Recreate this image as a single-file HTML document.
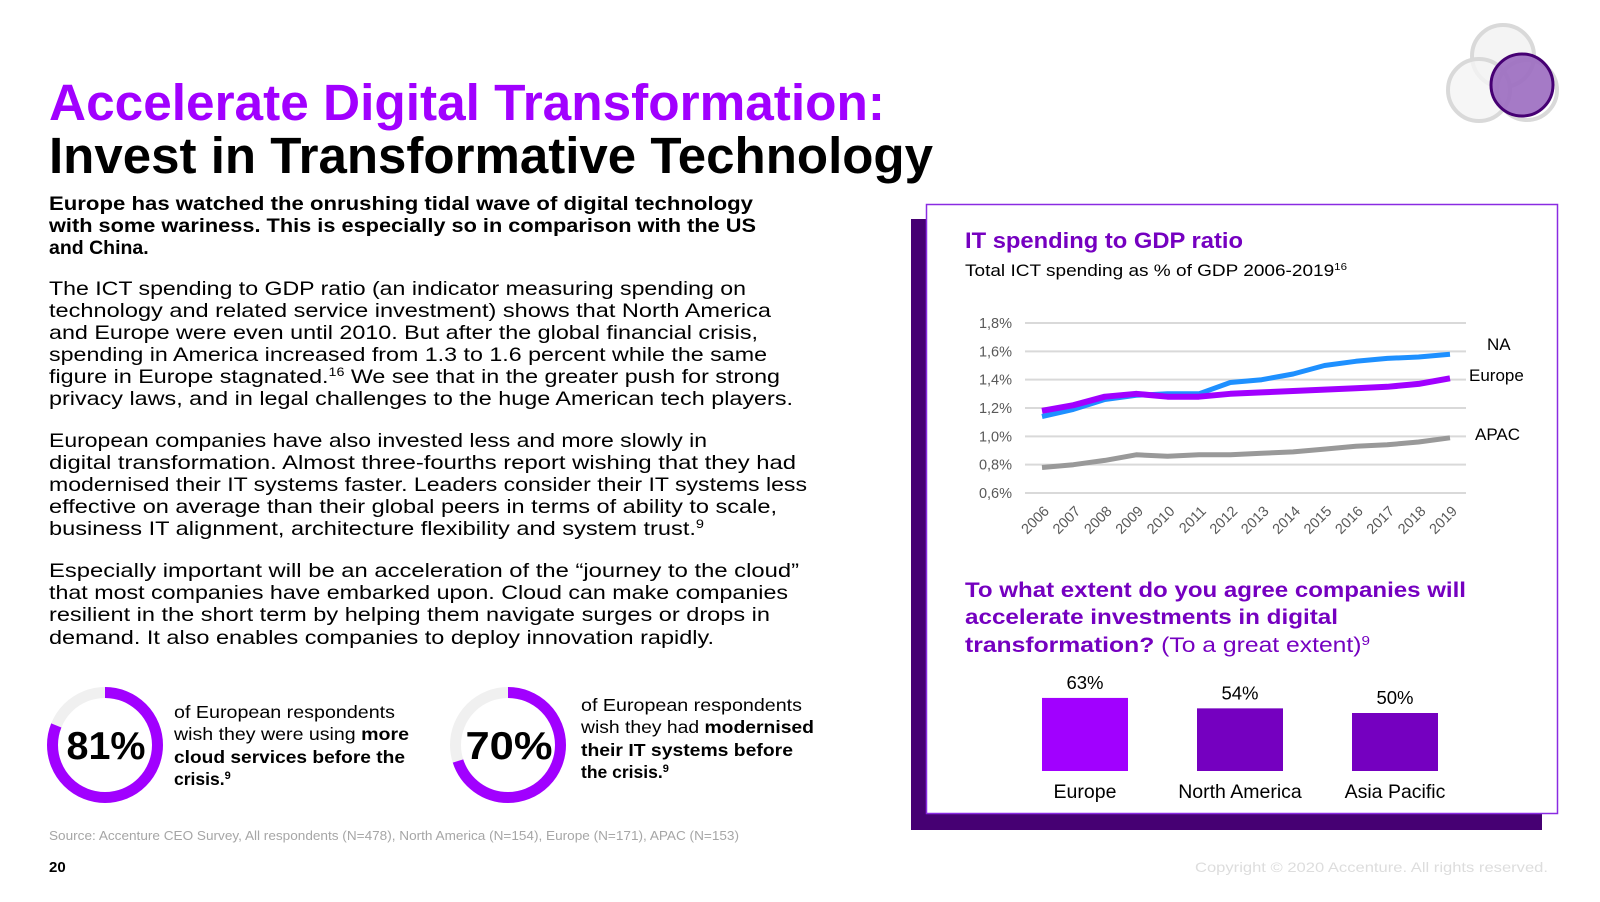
<!DOCTYPE html>
<html><head><meta charset="utf-8"><style>
html,body{margin:0;padding:0;background:#fff;}
svg{display:block;font-family:"Liberation Sans",sans-serif;}
</style></head><body>
<svg id="page" width="1600" height="902" viewBox="0 0 1600 902">
<!-- logo -->
<g>
  <circle cx="1503" cy="56" r="31" fill="#f4f4f4" stroke="#d9d9d9" stroke-width="4"/>
  <circle cx="1479" cy="90" r="31" fill="#f4f4f4" fill-opacity="0.8" stroke="#d9d9d9" stroke-width="4"/>
  <circle cx="1527" cy="90" r="30" fill="none" stroke="#d9d9d9" stroke-width="4"/>
  <circle cx="1522" cy="85" r="31" fill="#9b6bc0" fill-opacity="0.9" stroke="#460073" stroke-width="3"/>
</g>
<!-- titles -->
<text x="49" y="120" font-size="51" font-weight="bold" fill="#a100ff" textLength="836" lengthAdjust="spacingAndGlyphs">Accelerate Digital Transformation:</text>
<text x="49" y="173" font-size="51" font-weight="bold" fill="#000" textLength="884" lengthAdjust="spacingAndGlyphs">Invest in Transformative Technology</text>
<!-- intro -->
<g font-size="19.5" font-weight="bold" fill="#000">
<text x="49" y="210" textLength="704" lengthAdjust="spacingAndGlyphs">Europe has watched the onrushing tidal wave of digital technology</text>
<text x="49" y="232" textLength="707" lengthAdjust="spacingAndGlyphs">with some wariness. This is especially so in comparison with the US</text>
<text x="49" y="254">and China.</text>
</g>
<g font-size="19.5" fill="#000">
<text x="49" y="295" textLength="697" lengthAdjust="spacingAndGlyphs">The ICT spending to GDP ratio (an indicator measuring spending on</text>
<text x="49" y="317" textLength="722" lengthAdjust="spacingAndGlyphs">technology and related service investment) shows that North America</text>
<text x="49" y="339" textLength="709" lengthAdjust="spacingAndGlyphs">and Europe were even until 2010. But after the global financial crisis,</text>
<text x="49" y="361" textLength="718" lengthAdjust="spacingAndGlyphs">spending in America increased from 1.3 to 1.6 percent while the same</text>
<text x="49" y="383" textLength="731" lengthAdjust="spacingAndGlyphs">figure in Europe stagnated.<tspan font-size="12" dy="-7">16</tspan><tspan dy="7"> We see that in the greater push for strong</tspan></text>
<text x="49" y="405" textLength="744" lengthAdjust="spacingAndGlyphs">privacy laws, and in legal challenges to the huge American tech players.</text>
</g>
<g font-size="19.5" fill="#000">
<text x="49" y="447" textLength="658" lengthAdjust="spacingAndGlyphs">European companies have also invested less and more slowly in</text>
<text x="49" y="469" textLength="747" lengthAdjust="spacingAndGlyphs">digital transformation. Almost three-fourths report wishing that they had</text>
<text x="49" y="491" textLength="758" lengthAdjust="spacingAndGlyphs">modernised their IT systems faster. Leaders consider their IT systems less</text>
<text x="49" y="513" textLength="728" lengthAdjust="spacingAndGlyphs">effective on average than their global peers in terms of ability to scale,</text>
<text x="49" y="535" textLength="655" lengthAdjust="spacingAndGlyphs">business IT alignment, architecture flexibility and system trust.<tspan font-size="12" dy="-7">9</tspan></text>
</g>
<g font-size="19.5" fill="#000">
<text x="49" y="577" textLength="750" lengthAdjust="spacingAndGlyphs">Especially important will be an acceleration of the “journey to the cloud”</text>
<text x="49" y="599" textLength="739" lengthAdjust="spacingAndGlyphs">that most companies have embarked upon. Cloud can make companies</text>
<text x="49" y="621" textLength="721" lengthAdjust="spacingAndGlyphs">resilient in the short term by helping them navigate surges or drops in</text>
<text x="49" y="644" textLength="665" lengthAdjust="spacingAndGlyphs">demand. It also enables companies to deploy innovation rapidly.</text>
</g>
<!-- donuts -->
<g id="donuts"></g>
<g font-size="17.5" fill="#000">
<text x="174" y="718" textLength="221" lengthAdjust="spacingAndGlyphs">of European respondents</text>
<text x="174" y="740" textLength="235" lengthAdjust="spacingAndGlyphs">wish they were using <tspan font-weight="bold">more</tspan></text>
<text x="174" y="763" font-weight="bold" textLength="231" lengthAdjust="spacingAndGlyphs">cloud services before the</text>
<text x="174" y="785" font-weight="bold">crisis.<tspan font-size="11" dy="-6">9</tspan></text>
</g>
<g font-size="17.5" fill="#000">
<text x="581" y="711" textLength="221" lengthAdjust="spacingAndGlyphs">of European respondents</text>
<text x="581" y="733" textLength="233" lengthAdjust="spacingAndGlyphs">wish they had <tspan font-weight="bold">modernised</tspan></text>
<text x="581" y="756" font-weight="bold" textLength="212" lengthAdjust="spacingAndGlyphs">their IT systems before</text>
<text x="581" y="778" font-weight="bold">the crisis.<tspan font-size="11" dy="-6">9</tspan></text>
</g>
<text x="49" y="840" font-size="12.5" fill="#a6a6a6" textLength="690" lengthAdjust="spacingAndGlyphs">Source: Accenture CEO Survey, All respondents (N=478), North America (N=154), Europe (N=171), APAC (N=153)</text>
<text x="49" y="872" font-size="15" font-weight="bold" fill="#000">20</text>
<text x="1548" y="872" font-size="14" fill="#dddddd" text-anchor="end" textLength="353" lengthAdjust="spacingAndGlyphs">Copyright © 2020 Accenture. All rights reserved.</text>
<!-- right panel -->
<rect x="911" y="219" width="631" height="611" fill="#460073"/>
<rect x="926.5" y="204.5" width="631" height="609" fill="#fff" stroke="#8a2be2" stroke-width="1.5"/>
<text x="965" y="248" font-size="22" font-weight="bold" fill="#7500c0" textLength="278" lengthAdjust="spacingAndGlyphs">IT spending to GDP ratio</text>
<text x="965" y="276" font-size="16.5" fill="#000" textLength="382" lengthAdjust="spacingAndGlyphs">Total ICT spending as % of GDP 2006-2019<tspan font-size="10" dy="-6">16</tspan></text>
<g id="linechart"></g>
<g font-size="21" font-weight="bold" fill="#7500c0">
<text x="965" y="597" textLength="501" lengthAdjust="spacingAndGlyphs">To what extent do you agree companies will</text>
<text x="965" y="624" textLength="373" lengthAdjust="spacingAndGlyphs">accelerate investments in digital</text>
<text x="965" y="652" textLength="405" lengthAdjust="spacingAndGlyphs">transformation? <tspan font-weight="normal">(To a great extent)</tspan><tspan font-weight="normal" font-size="13" dy="-7">9</tspan></text>
</g>
<g id="barchart"></g>
</svg>
<script>
// ----- line chart data -----
const years = ["2006","2007","2008","2009","2010","2011","2012","2013","2014","2015","2016","2017","2018","2019"];
const naValues = [1.14,1.19,1.26,1.29,1.30,1.30,1.38,1.40,1.44,1.50,1.53,1.55,1.56,1.58];
const europeValues = [1.18,1.22,1.28,1.30,1.28,1.28,1.30,1.31,1.32,1.33,1.34,1.35,1.37,1.41];
const apacValues = [0.78,0.80,0.83,0.87,0.86,0.87,0.87,0.88,0.89,0.91,0.93,0.94,0.96,0.99];
const yTicks = [0.6,0.8,1.0,1.2,1.4,1.6,1.8];
const yTickLabels = ["0,6%","0,8%","1,0%","1,2%","1,4%","1,6%","1,8%"];
// ----- bar chart data -----
const barCategories = ["Europe","North America","Asia Pacific"];
const barValues = [63,54,50];
const barLabels = ["63%","54%","50%"];

const NS = "http://www.w3.org/2000/svg";
function mk(tag, attrs, parent){const e=document.createElementNS(NS,tag);for(const k in attrs)e.setAttribute(k,attrs[k]);parent.appendChild(e);return e;}

const lc = document.getElementById('linechart');
const xL=1042, xR=1450, yMin=0.6, yMax=1.8, yB=493, yT=323;
const xPos = i => xL + (xR-xL)*i/(years.length-1);
const yPos = v => yB - (v-yMin)/(yMax-yMin)*(yB-yT);
yTicks.forEach((t,i)=>{
  const g = mk('line',{x1:1025,x2:1466,y1:yPos(t),y2:yPos(t),stroke:'#d9d9d9','stroke-width':2},lc);
  
  
  const tx = mk('text',{x:1012,y:yPos(t)+5,'font-size':14.5,fill:'#595959','text-anchor':'end'},lc);
  tx.textContent = yTickLabels[i];
  
  
});
years.forEach((y,i)=>{
  const x = xPos(i)+8, yy = 512;
  const tx = mk('text',{x:x,y:yy,'font-size':14.5,fill:'#595959','text-anchor':'end',transform:`rotate(-45 ${x} ${yy})`},lc);
  tx.textContent = y;
  
  
});
function series(vals,color,w,name){
  const d = vals.map((v,i)=>(i?'L':'M')+xPos(i).toFixed(1)+','+yPos(v).toFixed(1)).join(' ');
  const p = mk('path',{d:d,fill:'none',stroke:color,'stroke-width':w,'stroke-linejoin':'round'},lc);
  
  
}
series(apacValues,'#999999',5,'apac-line');
series(naValues,'#1e90ff',5,'na-line');
series(europeValues,'#a100ff',6,'europe-line');
[["NA",1487,350,'na-label'],["Europe",1469,381,'europe-label'],["APAC",1475,440,'apac-label']].forEach(a=>{
  const t = mk('text',{x:a[1],y:a[2],'font-size':17,fill:'#000'},lc);
  t.textContent = a[0];
  
  
});

const bc = document.getElementById('barchart');
const base = 771, pxPer = 1.16, barW = 86, slot0 = 1085, slotStep = 155;
const barColors = ['#a100ff','#7500c0','#7500c0'];
barValues.forEach((v,i)=>{
  const cx = slot0 + slotStep*i, h = v*pxPer;
  const r = mk('rect',{x:cx-barW/2,y:base-h,width:barW,height:h,fill:barColors[i]},bc);
  
  
  const vl = mk('text',{x:cx,y:base-h-9,'font-size':18.5,fill:'#000','text-anchor':'middle'},bc);
  vl.textContent = barLabels[i];
  
  
  const cl = mk('text',{x:cx,y:798,'font-size':19.5,fill:'#000','text-anchor':'middle'},bc);
  cl.textContent = barCategories[i];
  
  
});

const dn = document.getElementById('donuts');
const donutValues = [81,70];
const donutLabels = ["81%","70%"];
const donutCx = [105,508];
donutValues.forEach((v,i)=>{
  const cx = donutCx[i], cy = 745, r = 52.5, C = 2*Math.PI*r;
  const bg = mk('circle',{cx:cx,cy:cy,r:r,fill:'none',stroke:'#f0f0f0','stroke-width':11},dn);
  
  
  const arc = mk('circle',{cx:cx,cy:cy,r:r,fill:'none',stroke:'#a100ff','stroke-width':11,'stroke-dasharray':`${C*v/100} ${C}`,transform:`rotate(-90 ${cx} ${cy})`},dn);
  
  
  const t = mk('text',{x:cx+1,y:cy+14,'font-size':39,'font-weight':'bold',fill:'#000','text-anchor':'middle',textLength:(i?87:79),lengthAdjust:'spacingAndGlyphs'},dn);
  t.textContent = donutLabels[i];
  
  
});
</script>
</body></html>
